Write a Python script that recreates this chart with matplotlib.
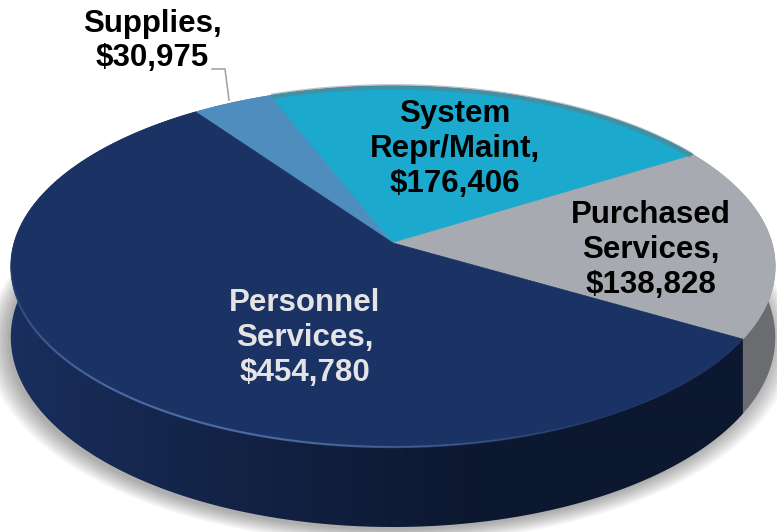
import numpy as np
import matplotlib
matplotlib.use('Agg')
import matplotlib.pyplot as plt
from matplotlib.patches import Polygon
from matplotlib.collections import LineCollection

plt.rcParams['font.family'] = ['Liberation Sans', 'DejaVu Sans']

# 费用构成数据
categories = ['Supplies', 'System\nRepr/Maint', 'Purchased\nServices', 'Personnel\nServices']
amounts = [30975, 176406, 138828, 454780]
top_colors = ['#4f8dbf', '#1ba9cd', '#a7aab0', '#1b3264']
side_floor = [0.5, 0.5, 0.64, 0.48]
label_colors = ['black', 'black', 'black', '#e4e4e4']

# 3D饼图的投影参数（像素坐标）
W, H = 777, 532
CX, CY = 393, 243
RX, RY = 379, 177.5
K = 0.13
DEPTH = 69.6
START = 125.2


def proj(theta, r=1.0, drop=0.0):
    t = np.radians(theta)
    u = r * np.cos(t)
    v = -r * np.sin(t)
    s = 1.0 / (1.0 - K * v)
    return CX + RX * u * s, CY + RY * v * s + DEPTH * s * drop


fig = plt.figure(figsize=(W / 100, H / 100), dpi=100)
ax = fig.add_axes([0, 0, 1, 1])
ax.set_xlim(0, W)
ax.set_ylim(H, 0)
ax.axis('off')

total = sum(amounts)
spans = [a / total * 360 for a in amounts]
edges = START - np.concatenate([[0], np.cumsum(spans)])

# 阴影
outline_t = np.linspace(0, 360, 400)
for i in range(10):
    xs, ys = proj(outline_t, r=1.0 + 0.006 * i, drop=1.0)
    ax.add_patch(Polygon(np.column_stack([xs - 3, ys + 3]), closed=True,
                         facecolor='black', edgecolor='none', alpha=0.035, zorder=1))

# 前半圈的 x 坐标与角度对应，用于侧面渐变
front_t = np.linspace(180, 360, 721)
front_x, _ = proj(front_t)
cols_x = np.arange(W) + 0.5
theta_x = np.interp(cols_x, front_x, front_t)

# 侧面：整块多边形 + 按角度的明暗渐变
for k in range(len(amounts)):
    tt = np.linspace(edges[k], edges[k + 1], 200)
    x1, y1 = proj(tt)
    x2, y2 = proj(tt[::-1], drop=1.0)
    wall = Polygon(np.column_stack([np.r_[x1, x2], np.r_[y1, y2]]), closed=True,
                   facecolor='none', edgecolor='none', zorder=2)
    ax.add_patch(wall)
    f = np.maximum(side_floor[k], 0.55 + 0.4 * np.cos(np.radians(theta_x - 180)))
    rgb = np.array(matplotlib.colors.to_rgb(top_colors[k]))
    row = np.clip(f[:, None] * rgb[None, :], 0, 1)
    img = np.repeat(row[None, :, :], 8, axis=0)
    im = ax.imshow(img, extent=(0, W, H, 0), aspect='auto', interpolation='bilinear', zorder=2)
    im.set_clip_path(wall)

# 顶面
for k in range(len(amounts)):
    tt = np.linspace(edges[k], edges[k + 1], 200)
    xs, ys = proj(tt)
    ax.add_patch(Polygon(np.column_stack([np.r_[CX, xs], np.r_[CY, ys]]), closed=True,
                         facecolor=top_colors[k], edgecolor=top_colors[k], lw=0.5, zorder=3))

# 顶面边缘的暗色斜边
tt = np.linspace(edges[2], edges[1], 120)
xs, ys = proj(tt, r=0.993)
ax.plot(xs, ys, color='#6f7278', lw=4, alpha=0.45, zorder=4, solid_capstyle='butt')

# 前缘高光
tt = np.linspace(185, 300, 200)
xs, ys = proj(tt)
pts = np.column_stack([xs, ys]).reshape(-1, 1, 2)
segs = np.concatenate([pts[:-1], pts[1:]], axis=1)
mid = (tt[:-1] + tt[1:]) / 2
alpha = np.clip(np.sin((mid - 185) / 115 * np.pi), 0, 1) * 0.7
hl = np.zeros((len(mid), 4))
hl[:, :3] = matplotlib.colors.to_rgb('#5f86c4')
hl[:, 3] = alpha
ax.add_collection(LineCollection(segs, colors=hl, linewidths=1.6, zorder=5))

# 标签
label_pos = [(152, 41), (455, 149), (651, 250), (305, 338)]
for k in range(len(amounts)):
    txt = '%s,\n$%s' % (categories[k], format(amounts[k], ','))
    ax.text(label_pos[k][0], label_pos[k][1], txt, ha='center', va='center',
            fontsize=22.5, fontweight='bold', color=label_colors[k],
            linespacing=1.2, zorder=6)

# Supplies 引导线
ax.plot([212, 225, 229], [69, 69, 100], color='#a6a6a6', lw=1.2, zorder=6)

fig.savefig('out.png', dpi=100)
